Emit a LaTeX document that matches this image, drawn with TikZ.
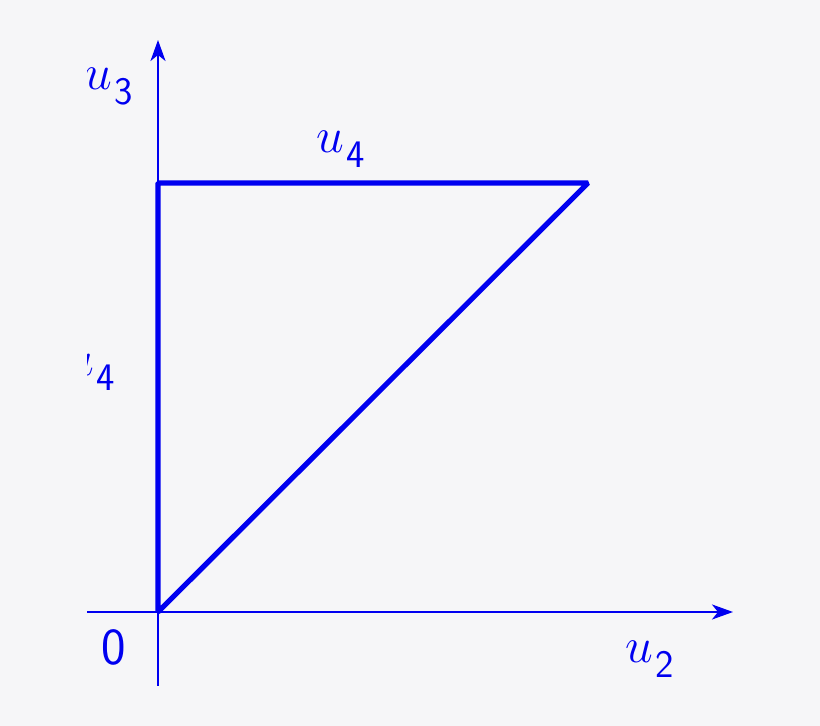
\documentclass[tikz,border=0pt]{standalone}
\usetikzlibrary{arrows.meta}
\definecolor{bg}{HTML}{F6F6F8}
\definecolor{lb}{HTML}{0000F0}
\newcommand{\ulab}[1]{\(u\)\hspace{1pt}\raisebox{-7.5pt}{\fontsize{19.5}{22}\selectfont\sffamily #1}}
\begin{document}
\begin{tikzpicture}[x=0.5pt,y=-0.5pt,
  axis/.style={draw=lb,line width=1.25pt},
  edge/.style={draw=lb,line width=2.6pt,line join=bevel},
  lab/.style={text=lb,inner sep=0pt,anchor=base west,font=\fontsize{26}{30}\selectfont}]
\fill[bg] (0,0) rectangle (820,726);
\useasboundingbox (0,0) rectangle (820,726);
\begin{scope}
\clip (87,0) rectangle (820,726);
\coordinate (O) at (158,612);
\coordinate (yb) at (158,686);
\coordinate (yt) at (158,40);
\coordinate (xl) at (87,612);
\coordinate (xr) at (733,612);
\coordinate (A) at (158,183);
\coordinate (B) at (588,183);
\draw[axis,-{Stealth[length=10.5pt,width=7.5pt,inset=3pt]}] (yb) -- (yt);
\draw[axis,-{Stealth[length=10.5pt,width=7.5pt,inset=3pt]}] (xl) -- (xr);
\draw[edge] (O) -- (A) -- (B) -- cycle;
\node[lab] (l3) at (84,90) {\ulab{3}};
\node[lab] (l4t) at (316,153) {\ulab{4}};
\node[lab] (l4m) at (66,376) {\ulab{4}};
\node[lab] (l0) at (101,665) {\sffamily 0};
\node[lab] (l2) at (625,663) {\ulab{2}};
\end{scope}
\end{tikzpicture}
\end{document}
